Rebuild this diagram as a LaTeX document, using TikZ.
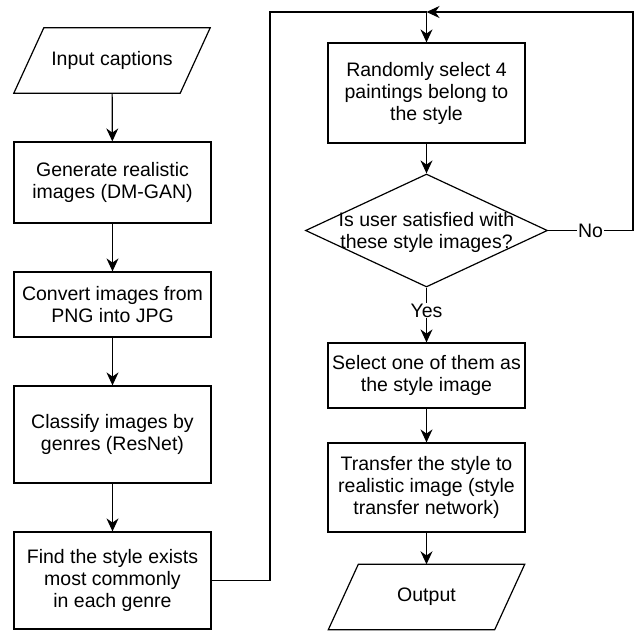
\documentclass[tikz,border=0pt]{standalone}
\usepackage{fontspec}
\setmainfont{Liberation Sans}
\usetikzlibrary{arrows.meta,shapes,positioning}

\begin{document}
\begin{tikzpicture}[x=1pt,y=-1pt,
		>={Stealth[length=13pt,width=12pt]},
		every node/.style={font=\fontsize{19.5}{22}\selectfont, align=center},
		box/.style={draw, line width=1.2pt, minimum width=197, minimum height=#1, inner sep=0pt},
		io/.style={minimum width=166, minimum height=65, inner sep=0pt,
			append after command={\pgfextra{\draw[line width=1.2pt]
				([xshift=15pt]\tikzlastnode.north west) -- ([xshift=15pt]\tikzlastnode.north east)
				-- ([xshift=-15pt]\tikzlastnode.south east) -- ([xshift=-15pt]\tikzlastnode.south west) -- cycle;}}},
		decision/.style={draw, line width=1.2pt, diamond, minimum width=242, minimum height=113, inner sep=0pt},
		flow/.style={line width=1.2pt}]
				\useasboundingbox (0,0) rectangle (637,631);

				\node[io] (in) at (112,60.5) {Input captions};
				\node[box=81] (gen) at (112.5,182.5) {Generate realistic\\images (DM-GAN)};
				\node[box=65] (conv) at (112.5,304.5) {Convert images from\\PNG into JPG};
				\node[box=97] (cls) at (112.5,434.5) {Classify images by\\genres (ResNet)};
				\node[box=97] (find) at (112.5,580.5) {Find the style exists\\most commonly\\in each genre};
				\node[box=100] (rand) at (426.5,93) {Randomly select 4\\paintings belong to\\the style};
				\node[decision, label={[yshift=-2]center:{Is user satisfied with\\these style images?}}] (ask) at (426.5,230.5) {};
				\node[box=65] (sel) at (426.5,375.5) {Select one of them as\\the style image};
				\node[box=89] (trans) at (426.5,487.5) {Transfer the style to\\realistic image (style\\transfer network)};
				\node[io] (out) at (426.5,597) {Output};

				\coordinate (top) at (426.5,12);
				\coordinate (lp) at (270,12);
				\coordinate (rp) at (633,12);

				\path [->, flow] (in) edge (gen);
				\path [->, flow] (gen) edge (conv);
				\path [->, flow] (conv) edge (cls);
				\path [->, flow] (cls) edge (find);
				\path [->, flow] (rand) edge (ask);
				\path [->, flow] (ask) edge node[fill=white, inner sep=1pt, pos=0.42] {Yes} (sel);
				\path [->, flow] (sel) edge (trans);
				\path [->, flow] (trans) edge (out);
				\draw [->, flow] (find.east) -| (lp) -- (top) -- (rand.north);
				\draw [->, flow] (ask.east) -- node[fill=white, inner sep=1pt] {No} (rp |- ask.east) -- (rp) -- (top);
			\end{tikzpicture}
\end{document}
